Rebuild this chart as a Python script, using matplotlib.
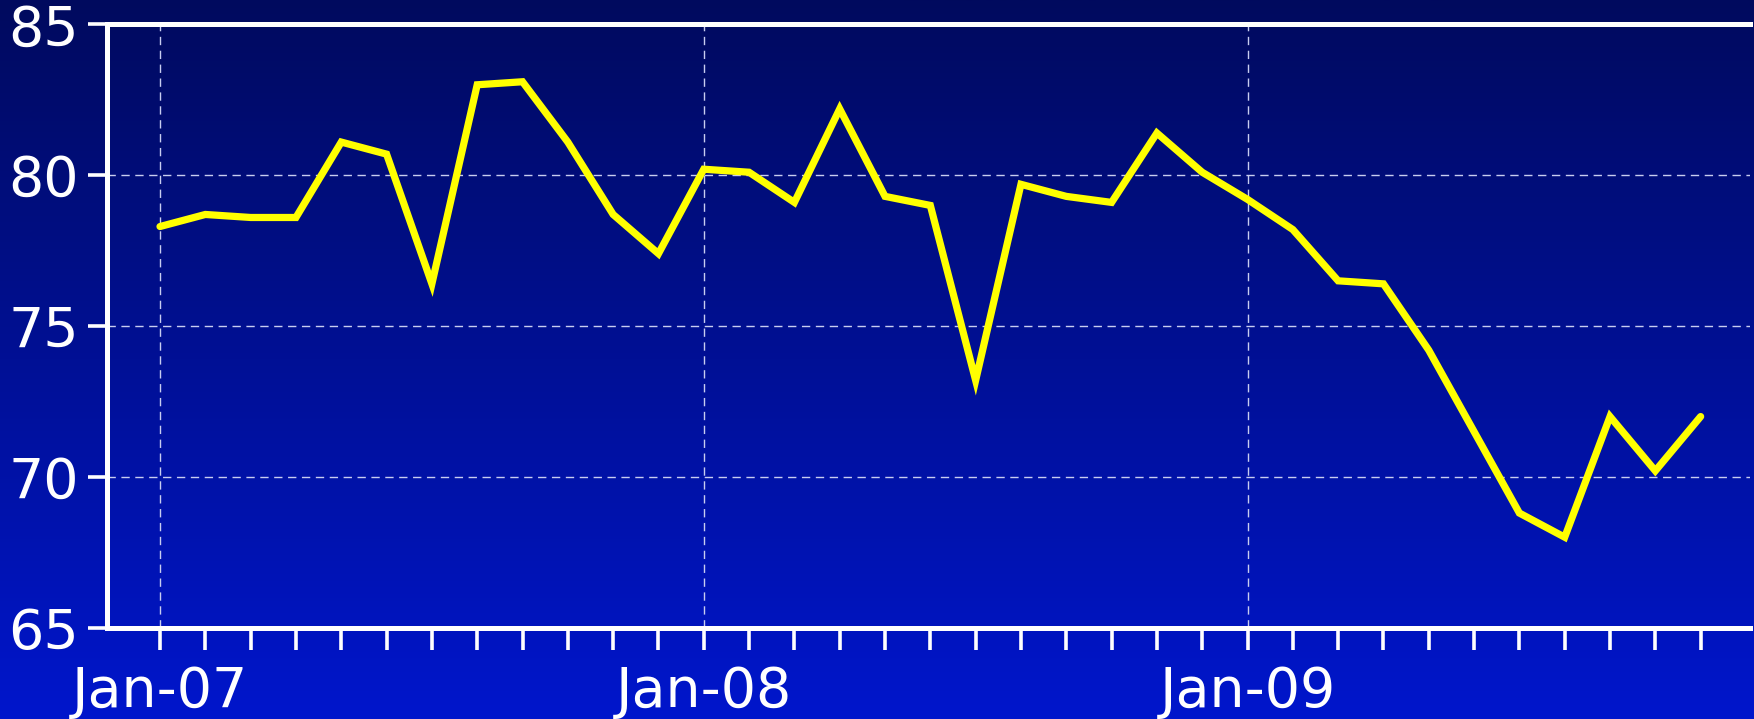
import numpy as np
import matplotlib
matplotlib.use('Agg')
import matplotlib.pyplot as plt
from matplotlib.colors import LinearSegmentedColormap
from matplotlib.ticker import FixedLocator, FixedFormatter

# monthly values, Jan-07 .. Nov-09
months = ['Jan-07', 'Feb-07', 'Mar-07', 'Apr-07', 'May-07', 'Jun-07', 'Jul-07', 'Aug-07',
          'Sep-07', 'Oct-07', 'Nov-07', 'Dec-07',
          'Jan-08', 'Feb-08', 'Mar-08', 'Apr-08', 'May-08', 'Jun-08', 'Jul-08', 'Aug-08',
          'Sep-08', 'Oct-08', 'Nov-08', 'Dec-08',
          'Jan-09', 'Feb-09', 'Mar-09', 'Apr-09', 'May-09', 'Jun-09', 'Jul-09', 'Aug-09',
          'Sep-09', 'Oct-09', 'Nov-09']
values = [78.3, 78.7, 78.6, 78.6, 81.1, 80.7, 76.4, 83.0, 83.1, 81.1, 78.7, 77.4,
          80.2, 80.1, 79.1, 82.2, 79.3, 79.0, 73.2, 79.7, 79.3, 79.1, 81.4, 80.1,
          79.2, 78.2, 76.5, 76.4, 74.2, 71.5, 68.8, 68.0, 72.0, 70.2, 72.0]
yticks = [65, 70, 75, 80, 85]
label_months = ['Jan-07', 'Jan-08', 'Jan-09']

fig = plt.figure(figsize=(17.54, 7.19), dpi=100)

# gradient background
bg = fig.add_axes([0, 0, 1, 1], zorder=-1)
cmap = LinearSegmentedColormap.from_list('bg', ['#000a5e', '#0016cc'])
bg.imshow(np.linspace(0, 1, 256).reshape(-1, 1), aspect='auto', cmap=cmap,
          extent=[0, 1, 0, 1], origin='upper')
bg.axis('off')

ax = fig.add_axes([0.061, 0.127, 0.937, 0.839])
ax.set_facecolor('none')
x = np.arange(len(values))
ax.plot(x, values, color='#ffff00', lw=5.2, solid_joinstyle='miter',
        solid_capstyle='round', zorder=3)

ax.set_xlim(-1.17, 35.1)
ax.set_ylim(65, 85)

major = [months.index(m) for m in label_months]
ax.xaxis.set_major_locator(FixedLocator(major))
ax.xaxis.set_major_formatter(FixedFormatter(label_months))
ax.xaxis.set_minor_locator(FixedLocator(list(x)))
ax.set_yticks(yticks)

for s in ['left', 'bottom', 'top']:
    ax.spines[s].set_color('white')
    ax.spines[s].set_linewidth(3.6)
ax.spines['right'].set_visible(False)

ax.tick_params(axis='x', which='both', direction='out', length=16, width=2.6,
               color='white', labelcolor='white', labelsize=40, pad=11)
ax.tick_params(axis='y', direction='out', length=14, width=2.6,
               color='white', labelcolor='white', labelsize=40, pad=6)
for t in ax.xaxis.get_ticklines(minor=True) + ax.xaxis.get_ticklines() + ax.yaxis.get_ticklines():
    t.set_solid_capstyle('round')

ax.grid(True, axis='both', which='major', color='#c8cdf0', linestyle=(0, (6, 4)), lw=1.0)
ax.set_axisbelow(True)

fig.savefig('out.png', dpi=100)
